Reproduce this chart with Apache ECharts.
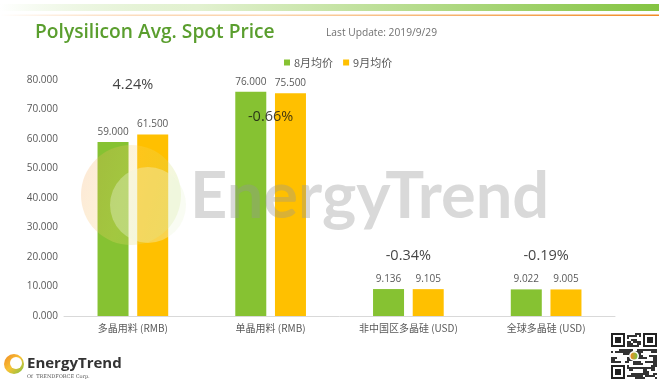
<!DOCTYPE html>
<html><head><meta charset="utf-8">
<script src="https://cdn.jsdelivr.net/npm/echarts@6/dist/echarts.min.js"></script>
<style>html,body{margin:0;padding:0;background:#fff}#c{width:659px;height:392px}</style>
</head><body><div id="c"></div>
<script>
// ---- data ----
var categories = ['多晶用料 (RMB)', '单晶用料 (RMB)', '非中国区多晶硅 (USD)', '全球多晶硅 (USD)'];
var seriesNames = ['8月均价', '9月均价'];
var augPrice = [59.000, 76.000, 9.136, 9.022];
var sepPrice = [61.500, 75.500, 9.105, 9.005];
var changeText = ['4.24%', '-0.66%', '-0.34%', '-0.19%'];
var yTicks = [0, 10, 20, 30, 40, 50, 60, 70, 80];

// ---- layout (where change labels sit, in axis units) ----
var changeLabelAt = [78.4, 67.6, 20.5, 20.5];

var chart = echarts.init(document.getElementById('c'));
var green = '#86c232', yellow = '#ffc000';
var cjk = '"Noto Sans CJK SC", "Noto Sans", sans-serif';

var qr = [];
(function(){
  var x0 = 611, y0 = 333, s = 46;
  qr.push({type:'rect', shape:{x:x0,y:y0,width:s,height:s}, style:{fill:'#fff'}, z:50});
  var cell = s/23;
  var seed = 7;
  for (var r=0;r<23;r++) for (var c=0;c<23;c++){
    var inFinder = (r<8&&c<8)||(r<8&&c>14)||(r>14&&c<8);
    if (inFinder) continue;
    seed = (seed*1103515245+12345)&0x7fffffff;
    if ((seed>>8)%2===0) qr.push({type:'rect', shape:{x:x0+c*cell,y:y0+r*cell,width:cell,height:cell}, style:{fill:'#333'}, z:51});
  }
  [[0,0],[0,16],[16,0]].forEach(function(p){
    var fx=x0+p[1]*cell, fy=y0+p[0]*cell;
    qr.push({type:'rect', shape:{x:fx,y:fy,width:7*cell,height:7*cell}, style:{fill:'#222'}, z:52});
    qr.push({type:'rect', shape:{x:fx+cell,y:fy+cell,width:5*cell,height:5*cell}, style:{fill:'#fff'}, z:53});
    qr.push({type:'rect', shape:{x:fx+2*cell,y:fy+2*cell,width:3*cell,height:3*cell}, style:{fill:'#222'}, z:54});
  });
  qr.push({type:'circle', shape:{cx:x0+s/2, cy:y0+s/2, r:5}, style:{fill:'#fff'}, z:55});
  qr.push({type:'circle', shape:{cx:x0+s/2, cy:y0+s/2, r:3.5}, style:{fill:{type:'linear',x:0,y:0,x2:1,y2:0,colorStops:[{offset:0,color:'#f08a24'},{offset:1,color:'#7cc242'}]}}, z:56});
})();

var option = {
  backgroundColor: '#ffffff',
  animation: false,
  textStyle: { fontFamily: cjk },
  graphic: [
    { type:'rect', shape:{x:0,y:4,width:659,height:7},
      style:{ fill:{type:'linear',x:0,y:0,x2:1,y2:0,colorStops:[{offset:0,color:'rgba(200,230,170,0)'},{offset:0.3,color:'#e2f1d0'},{offset:1,color:'#84c441'}]} }, z:1 },
    { type:'rect', shape:{x:0,y:14.5,width:659,height:1.5},
      style:{ fill:{type:'linear',x:0,y:0,x2:1,y2:0,colorStops:[{offset:0,color:'rgba(245,160,80,0)'},{offset:0.4,color:'#fbd6b0'},{offset:1,color:'#f08a24'}]} }, z:1 },
    { type:'text', x:35, y:32.5, scaleX:0.96, style:{ text:'Polysilicon Avg. Spot Price', fill:'#5a9e2e', font:'600 20px "Open Sans", sans-serif', textVerticalAlign:'middle' }, z:5 },
    { type:'text', x:326, y:33, scaleX:0.93, style:{ text:'Last Update: 2019/9/29', fill:'#707070', font:'11px "Open Sans", sans-serif', textVerticalAlign:'middle' }, z:5 },
    // watermark
    { type:'circle', shape:{cx:131, cy:195, r:50}, style:{ fill:{type:'linear',x:0,y:0,x2:1,y2:0.3,colorStops:[{offset:0,color:'#f5a25b'},{offset:0.55,color:'#f9d66a'},{offset:1,color:'#c8e27a'}]}, opacity:0.25 }, z:100 },
    { type:'circle', shape:{cx:148, cy:205, r:38}, style:{ fill:'#eef7dc', opacity:0.35 }, z:101 },
    { type:'text', x:190, y:197, style:{ text:'EnergyTrend', fill:'rgba(150,150,150,0.36)', font:'bold 65px Lato, "Open Sans", sans-serif', textVerticalAlign:'middle' }, z:100 },
    // bottom-left logo
    { type:'circle', shape:{cx:14, cy:364, r:10}, style:{ fill:{type:'linear',x:0,y:0,x2:1,y2:1,colorStops:[{offset:0,color:'#f08a24'},{offset:0.5,color:'#f7c234'},{offset:1,color:'#7cc242'}]} }, z:5 },
    { type:'circle', shape:{cx:16, cy:363, r:6}, style:{ fill:'#ffffff' }, z:6 },
    { type:'text', x:27, y:364, style:{ text:'EnergyTrend', fill:'#333333', font:'bold 15px "Open Sans", sans-serif', textVerticalAlign:'middle' }, z:5 },
    { type:'text', x:27, y:377, style:{ text:'Of  TRENDFORCE Corp.', fill:'#555555', font:'5px "DejaVu Serif", serif', textVerticalAlign:'middle' }, z:5 }
  ].concat(qr),
  legend: {
    top: 52, left: 279,
    itemWidth: 6, itemHeight: 6, itemGap: 10,
    icon: 'rect',
    textStyle: { fontSize: 11, color: '#595959', fontFamily: cjk, padding:[0,0,0,-1] },
    data: seriesNames
  },
  grid: { left: 64, right: 44, top: 80, bottom: 76 },
  xAxis: {
    type: 'category', data: categories,
    axisLine: { lineStyle: { color: '#d9d9d9' } },
    axisTick: { show: false },
    axisLabel: { interval: 0, color: '#595959', fontSize: 10, margin: 7, fontFamily: cjk }
  },
  yAxis: {
    type: 'value', min: yTicks[0], max: yTicks[yTicks.length-1], interval: yTicks[1]-yTicks[0],
    splitLine: { show: false }, axisLine: { show: false }, axisTick: { show: false },
    axisLabel: { color: '#595959', fontSize: 10, margin: 6, formatter: function(v){ return v.toFixed(3); }, fontFamily: '"Open Sans", sans-serif' }
  },
  series: [
    { name: seriesNames[0], type: 'bar', data: augPrice, barWidth: 31, barGap: '28%',
      itemStyle: { color: green },
      label: { show: true, position: 'top', distance: 5, color: '#595959', fontSize: 10, fontFamily: '"Open Sans", sans-serif', formatter: function(p){ return p.value.toFixed(3); } } },
    { name: seriesNames[1], type: 'bar', data: sepPrice, barWidth: 31,
      itemStyle: { color: yellow },
      label: { show: true, position: 'top', distance: 5, color: '#595959', fontSize: 10, fontFamily: '"Open Sans", sans-serif', formatter: function(p){ return p.value.toFixed(3); } } },
    { name: 'change', type: 'scatter', symbolSize: 0, z: 10,
      data: changeText.map(function(t, i){ return { value: [categories[i], changeLabelAt[i]], name: t }; }),
      label: { show: true, position: 'inside', color: '#111', fontSize: 14.5, fontFamily: '"Open Sans", sans-serif', formatter: function(p){ return p.name; } },
      tooltip: { show: false } }
  ]
};
chart.setOption(option);
</script>
</body></html>
